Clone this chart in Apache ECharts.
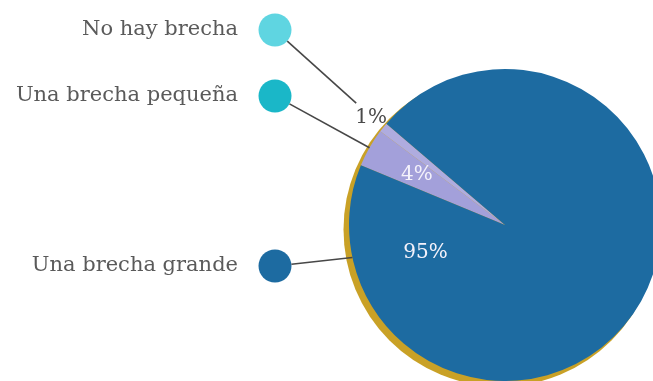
<!DOCTYPE html>
<html>
<head>
<meta charset="utf-8">
<script src="https://cdn.jsdelivr.net/npm/echarts@6/dist/echarts.min.js"></script>
<style>
  html, body { margin: 0; padding: 0; background: #ffffff; }
  #chart { width: 653px; height: 381px; }
</style>
</head>
<body>
<div id="chart"></div>
<script>
// Survey answers, in the order the slices run clockwise
const categories = ['Una brecha pequeña', 'No hay brecha', 'Una brecha grande'];
const shares = [4, 1, 95];
const shareLabels = ['4%', '1%', '95%'];

// Legend rows, top to bottom (indices into categories)
const legendOrder = [1, 0, 2];

// Styling
const sliceColors = ['#a3a0da', '#afacdf', '#1d6ba1'];
const legendColors = ['#1ab7c8', '#5fd5e1', '#1d6ba1'];
const labelColors = ['#f4f2fb', '#4a4a4a', '#f4f2fb'];
const ringColor = '#c9a126';
const textColor = '#5a5a5a';
const lineColor = '#474747';
const font = '"DejaVu Serif", "Liberation Serif", serif';

// Layout
const cx = 505, cy = 225, R = 156;
const startAngle = 157.5;
const legendX = 275, legendR = 16.5, legendTextRight = 238;
const legendY = [30, 96, 266];

const chart = echarts.init(document.getElementById('chart'), null, { renderer: 'canvas' });

// angle (degrees, counter-clockwise from +x) of each slice's middle
const total = shares.reduce((a, b) => a + b, 0);
const midAngles = [];
let acc = 0;
shares.forEach(v => {
  midAngles.push(startAngle - (acc + v / 2) / total * 360);
  acc += v;
});
const polar = (deg, r) => {
  const a = deg * Math.PI / 180;
  return [cx + r * Math.cos(a), cy - r * Math.sin(a)];
};

// where each leader line meets the pie, and where each share label sits
const leaderTarget = [
  polar(midAngles[0], R),        // small gap: rim at middle of slice
  null,                          // no gap: stops short, next to its label
  polar(192, R)                  // large gap: left rim
];
const labelPos = [
  polar(midAngles[0], R * 0.65),
  polar(midAngles[1], R * 1.1),
  polar(199.5, R * 0.54)
];

const graphics = [];
legendOrder.forEach((ci, row) => {
  const y = legendY[row];
  graphics.push({
    type: 'text', z: 10,
    style: {
      text: categories[ci], x: legendTextRight, y: y,
      align: 'right', verticalAlign: 'middle',
      font: '21px ' + font, fill: textColor
    }
  });
  graphics.push({
    type: 'circle', z: 10,
    shape: { cx: legendX, cy: y, r: legendR },
    style: { fill: legendColors[ci] }
  });
  // leader line from the legend dot toward its slice
  let end;
  const rim = polar(midAngles[ci], R);
  if (leaderTarget[ci]) {
    end = leaderTarget[ci];
  } else {
    end = [legendX + (rim[0] - legendX) * 0.75, y + (rim[1] - y) * 0.75];
  }
  const dx = end[0] - legendX, dy = end[1] - y;
  const len = Math.hypot(dx, dy);
  graphics.push({
    type: 'line', z: 11,
    shape: {
      x1: legendX + dx / len * legendR, y1: y + dy / len * legendR,
      x2: end[0], y2: end[1]
    },
    style: { stroke: lineColor, lineWidth: 1.6 }
  });
});
shareLabels.forEach((t, i) => {
  graphics.push({
    type: 'text', z: 12,
    style: {
      text: t, x: labelPos[i][0], y: labelPos[i][1],
      align: 'center', verticalAlign: 'middle',
      font: '20px ' + font, fill: labelColors[i]
    }
  });
});

chart.setOption({
  backgroundColor: '#ffffff',
  animation: false,
  series: [
    {
      // gold rim peeking out behind the pie
      type: 'pie',
      silent: true,
      z: 1,
      center: [cx - 4.5, cy + 4.5],
      radius: R + 1,
      label: { show: false },
      labelLine: { show: false },
      itemStyle: { color: ringColor },
      data: [{ value: 1, name: 'rim' }]
    },
    {
      type: 'pie',
      z: 2,
      center: [cx, cy],
      radius: R,
      startAngle: startAngle,
      clockwise: true,
      label: { show: false },
      labelLine: { show: false },
      itemStyle: { borderWidth: 0 },
      data: categories.map((name, i) => ({
        name: name,
        value: shares[i],
        itemStyle: { color: sliceColors[i] }
      }))
    }
  ],
  graphic: graphics
});
</script>
</body>
</html>
